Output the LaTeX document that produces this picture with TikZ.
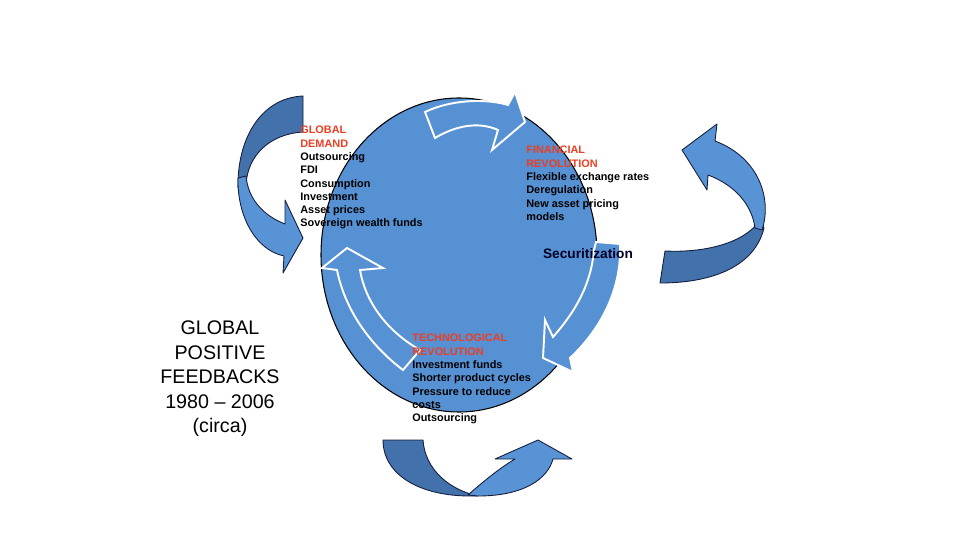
\documentclass[tikz,border=0pt]{standalone}
\usepackage{fontspec}
\setmainfont{Liberation Sans}
\definecolor{cblue}{RGB}{86,145,211}
\definecolor{adark}{RGB}{66,113,172}
\definecolor{alight}{RGB}{88,147,213}
\definecolor{tred}{RGB}{235,62,35}
\definecolor{edge}{RGB}{20,30,60}
\begin{document}
\begin{tikzpicture}[x=0.02cm,y=-0.02cm,
 outerdark/.style={fill=adark,draw=edge,line width=0.5pt,line join=round},
 outerlight/.style={fill=alight,draw=edge,line width=0.5pt,line join=round},
 innerarrow/.style={fill=cblue,draw=white,line width=1.1pt,line join=miter},
 lbl/.style={inner sep=0pt,anchor=north west,align=left,font=\fontsize{6.2}{7.55}\selectfont\bfseries,text=black}]
\useasboundingbox (0,0) rectangle (960,540);

% main circle
\draw[fill=cblue,draw=black,line width=0.6pt] (459,255) ellipse [x radius=138, y radius=157];

% inner arrows
\draw[innerarrow] (425,112) .. controls (450,100) and (485,98) .. (508,105) -- (515,92) -- (525,122) -- (492,150) -- (498,130) .. controls (478,121) and (455,126) .. (435,138) -- cycle;
\draw[innerarrow] (596,242) -- (620,244) .. controls (622,290) and (600,330) .. (570,358) -- (573,372) -- (543,358) -- (545,320) -- (553,337) .. controls (575,312) and (591,285) .. (594,250) -- cycle;
\draw[innerarrow] (403,370) .. controls (370,345) and (345,310) .. (337,270) -- (322,268) -- (347,248) -- (383,268) -- (360,270) .. controls (365,300) and (385,330) .. (420,350) -- cycle;

% outer arrows: left
\draw[outerdark] (303,96) .. controls (260,98) and (237,140) .. (238,188) -- (246,184) .. controls (248,155) and (270,134) .. (303,132) -- cycle;
\draw[outerlight] (238,178) .. controls (237,215) and (255,250) .. (284,256) -- (283,273) -- (303,238) -- (285,200) -- (285,224) .. controls (262,215) and (248,198) .. (246,176) -- cycle;
% right
\draw[outerdark] (665,251) .. controls (705,253) and (745,243) .. (760,220) -- (764,228) .. controls (755,265) and (715,283) .. (660,283) -- cycle;
\draw[outerlight] (762,230) .. controls (772,200) and (760,158) .. (715,141) -- (717,124) -- (682,150) -- (707,190) -- (708,175) .. controls (735,185) and (752,205) .. (755,228) -- cycle;
% bottom
\draw[outerdark] (383,440) .. controls (383,475) and (420,496) .. (470,496) -- (478,496) .. controls (450,490) and (425,470) .. (423,440) -- cycle;
\draw[outerlight] (468,495) .. controls (485,480) and (500,468) .. (515,459) -- (495,459) -- (538,440) -- (572,459) -- (553,459) .. controls (548,478) and (525,496) .. (478,496) -- cycle;

% texts
\node[lbl] (demand) at (300,126) {\textcolor{tred}{GLOBAL}\\\textcolor{tred}{DEMAND}\\Outsourcing\\FDI\\Consumption\\Investment\\Asset prices\\Sovereign wealth funds};
\node[lbl] (finrev) at (526,146) {\textcolor{tred}{FINANCIAL}\\\textcolor{tred}{REVOLUTION}\\Flexible exchange rates\\Deregulation\\New asset pricing\\models};
\node[lbl] (techrev) at (412,334) {\textcolor{tred}{TECHNOLOGICAL}\\\textcolor{tred}{REVOLUTION}\\Investment funds\\Shorter product cycles\\Pressure to reduce\\costs\\Outsourcing};
\node[inner sep=0pt,font=\fontsize{7.8}{9}\selectfont\bfseries,text=black!85!blue] (secur) at (588,254) {Securitization};
\node[inner sep=0pt,align=center,font=\fontsize{11.2}{13.9}\selectfont] (title) at (220,379) {GLOBAL\\POSITIVE\\FEEDBACKS\\1980 -- 2006\\(circa)};
\end{tikzpicture}
\end{document}
